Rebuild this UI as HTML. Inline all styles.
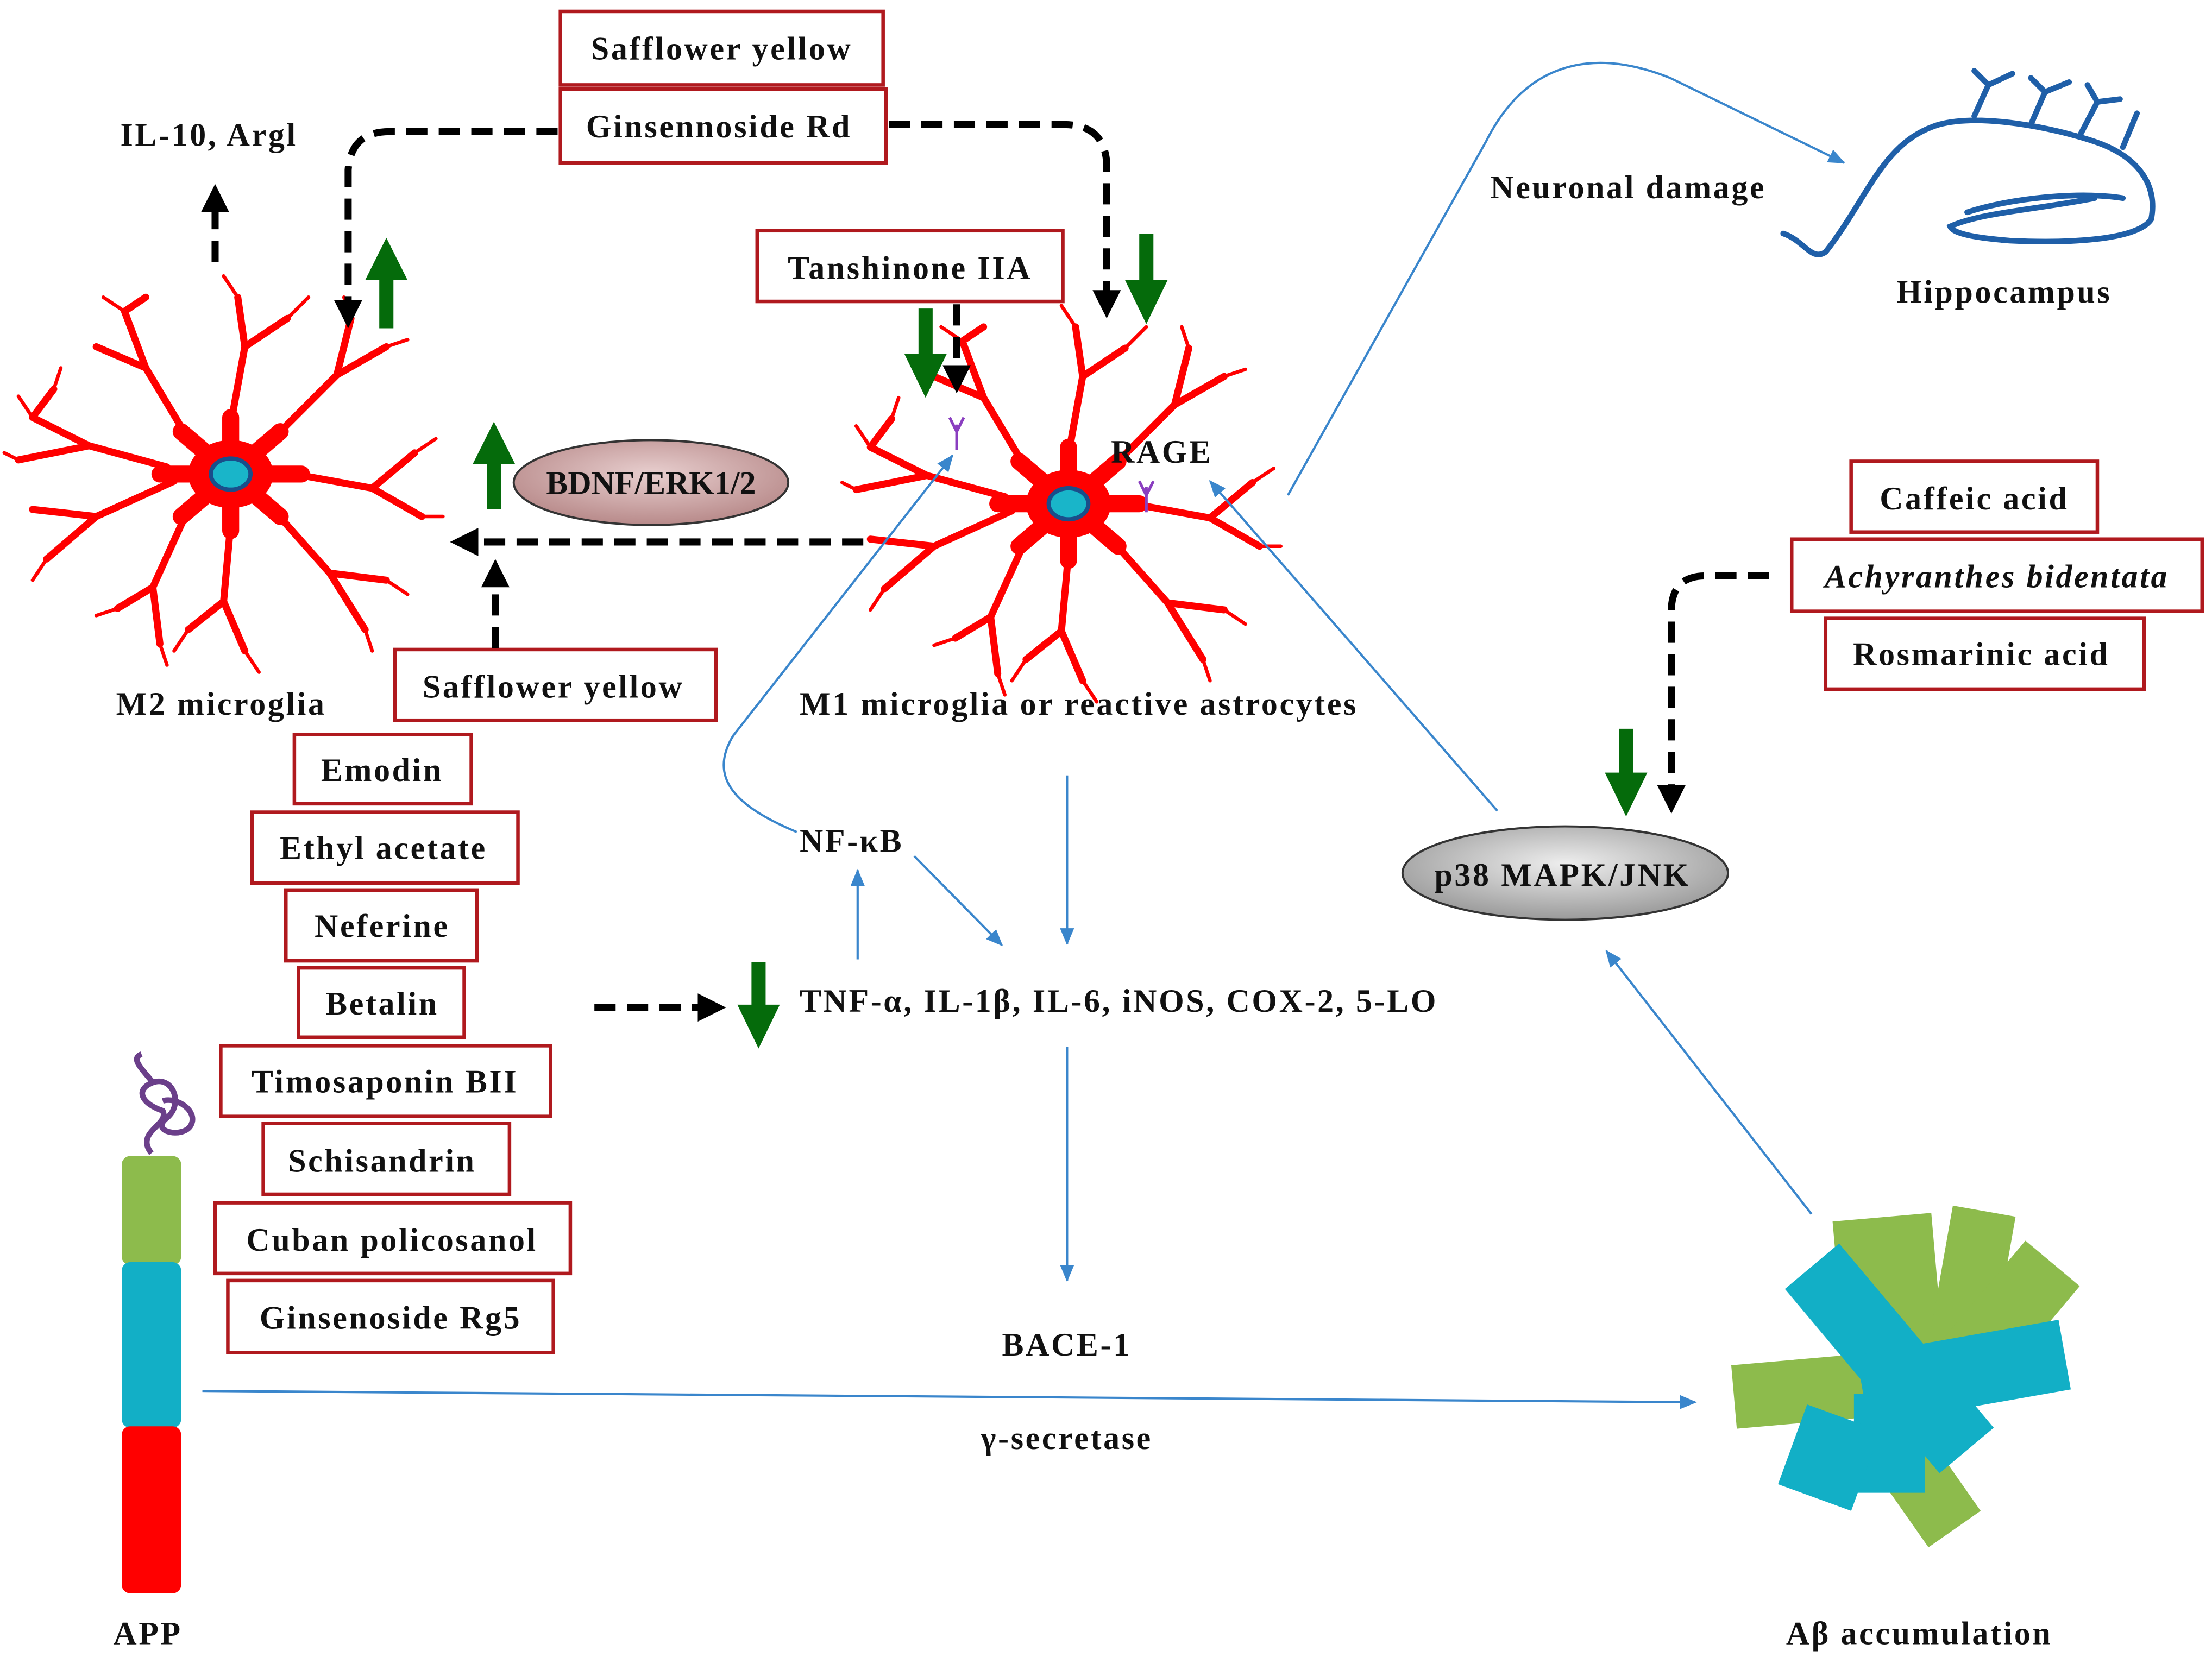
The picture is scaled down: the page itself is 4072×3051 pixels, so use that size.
<!DOCTYPE html>
<html><head><meta charset="utf-8"><style>
html,body{margin:0;padding:0;background:#fff;}
svg{display:block;}
text{font-family:"Liberation Serif",serif;font-weight:bold;font-size:23px;fill:#111;letter-spacing:1.4px;}
.box{fill:#fff;stroke:#b0191e;stroke-width:2.5;}
.dash{fill:none;stroke:#000;stroke-width:5;stroke-dasharray:15 8;}
.blue{fill:none;stroke:#3a86cc;stroke-width:1.6;}
.red{stroke:#f00;fill:none;stroke-linecap:round;}
</style></head><body>
<svg width="4072" height="3051" viewBox="0 0 1563 1171" xmlns="http://www.w3.org/2000/svg">
<defs>
<marker id="bk" markerWidth="4" markerHeight="4" refX="2" refY="2" orient="auto" markerUnits="strokeWidth"><path d="M0,0 L4,2 L0,4 z" fill="#000"/></marker>
<marker id="bl" markerWidth="12" markerHeight="10" refX="11" refY="5" orient="auto" markerUnits="userSpaceOnUse"><path d="M0,0 L12,5 L0,10 z" fill="#3a86cc"/></marker>
<radialGradient id="gp" cx="50%" cy="40%" r="60%"><stop offset="0" stop-color="#e8cfcf"/><stop offset="1" stop-color="#b88a8a"/></radialGradient>
<radialGradient id="gg" cx="50%" cy="40%" r="60%"><stop offset="0" stop-color="#eee"/><stop offset="1" stop-color="#9a9a9a"/></radialGradient>
<g id="cell">
<ellipse rx="30" ry="24" fill="#f00"/>
<path class="red" stroke-width="12" d="M-50,0 L50,0 M0,-40 L0,40 M-35,-30 L35,30 M-35,30 L35,-30"/>
<path class="red" stroke-width="5" d="M-45,-5 L-100,-20 L-140,-40 M-100,-20 L-150,-10 M-140,-40 L-125,-60 M-40,5 L-95,30 L-130,60 M-95,30 L-140,25 M-30,-25 L-60,-75 L-75,-115 M-60,-75 L-95,-90 M-75,-115 L-60,-125 M0,-35 L10,-90 L5,-125 M10,-90 L40,-110 M30,-25 L75,-70 L110,-90 M75,-70 L85,-110 M45,0 L100,10 L135,30 M100,10 L130,-15 M30,25 L70,70 L95,110 M70,70 L110,75 M0,35 L-5,90 L10,125 M-5,90 L-30,110 M-30,25 L-55,80 L-80,95 M-55,80 L-50,120"/>
<path class="red" stroke-width="2.5" d="M-140,-40 L-150,-55 M-150,-10 L-160,-15 M-130,60 L-140,75 M-75,-115 L-90,-125 M5,-125 L-5,-140 M40,-110 L55,-125 M110,-90 L125,-95 M135,30 L150,30 M130,-15 L145,-25 M95,110 L100,125 M110,75 L125,85 M10,125 L20,140 M-30,110 L-40,125 M-80,95 L-95,100 M-50,120 L-45,135 M-125,-60 L-120,-75 M85,-110 L80,-125"/>
<ellipse rx="14" ry="11" fill="#19b5c9" stroke="#1a4e8a" stroke-width="3"/>
</g>
</defs>

<use href="#cell" x="163" y="335"/>
<use href="#cell" x="755" y="356"/>
<path d="M676,318 L676,300 M676,305 L671,295 M676,305 L681,295 M810,362 L810,344 M810,350 L805,340 M810,350 L815,340" stroke="#8a3ec0" stroke-width="2" fill="none"/>

<rect class="box" x="396" y="8" width="228" height="52"/><text x="510" y="42" text-anchor="middle">Safflower  yellow</text>
<rect class="box" x="396" y="63" width="230" height="52"/><text x="508" y="97" text-anchor="middle">Ginsennoside Rd</text>
<rect class="box" x="535" y="163" width="216" height="50"/><text x="643" y="197" text-anchor="middle">Tanshinone  IIA</text>
<rect class="box" x="279" y="459" width="227" height="50"/><text x="391" y="493" text-anchor="middle">Safflower  yellow</text>
<rect class="box" x="208" y="519" width="125" height="49"/><text x="270" y="552" text-anchor="middle">Emodin</text>
<rect class="box" x="178" y="574" width="188" height="50"/><text x="271" y="607" text-anchor="middle">Ethyl acetate</text>
<rect class="box" x="202" y="629" width="135" height="50"/><text x="270" y="662" text-anchor="middle">Neferine</text>
<rect class="box" x="211" y="684" width="117" height="49"/><text x="270" y="717" text-anchor="middle">Betalin</text>
<rect class="box" x="156" y="739" width="233" height="50"/><text x="272" y="772" text-anchor="middle">Timosaponin  BII</text>
<rect class="box" x="186" y="794" width="174" height="50"/><text x="270" y="828" text-anchor="middle">Schisandrin</text>
<rect class="box" x="152" y="850" width="251" height="50"/><text x="277" y="884" text-anchor="middle">Cuban  policosanol</text>
<rect class="box" x="161" y="905" width="230" height="51"/><text x="276" y="939" text-anchor="middle">Ginsenoside Rg5</text>
<rect class="box" x="1308" y="326" width="174" height="50"/><text x="1395" y="360" text-anchor="middle">Caffeic acid</text>
<rect class="box" x="1266" y="381" width="290" height="51"/><text x="1411" y="415" text-anchor="middle" font-style="italic">Achyranthes bidentata</text>
<rect class="box" x="1290" y="437" width="225" height="50"/><text x="1400" y="470" text-anchor="middle">Rosmarinic  acid</text>

<ellipse cx="460" cy="341" rx="97" ry="30" fill="url(#gp)" stroke="#333" stroke-width="1.5"/><text x="460" y="349" text-anchor="middle" style="letter-spacing:0">BDNF/ERK1/2</text>
<ellipse cx="1106" cy="617" rx="115" ry="33" fill="url(#gg)" stroke="#333" stroke-width="1.5"/><text x="1104" y="626" text-anchor="middle">p38 MAPK/JNK</text>

<path class="dash" marker-end="url(#bk)" d="M394,93 L275,93 Q248,93 246,120 L246,222"/>
<path class="dash" marker-end="url(#bk)" d="M628,88 L752,88 Q780,88 782,115 L782,215"/>
<path class="dash" marker-end="url(#bk)" d="M152,185 L152,140"/>
<path class="dash" marker-end="url(#bk)" d="M676,215 L676,268"/>
<path class="dash" marker-end="url(#bk)" d="M610,383 L328,383"/>
<path class="dash" marker-end="url(#bk)" d="M350,458 L350,405"/>
<path class="dash" marker-end="url(#bk)" d="M420,712 L503,712"/>
<path class="dash" marker-end="url(#bk)" d="M1250,407 L1205,407 Q1182,407 1181,430 L1181,565"/>

<g fill="#056b0b">
<path d="M268,232 L268,198 L258,198 L273,168 L288,198 L278,198 L278,232 z"/>
<path d="M805,165 L805,198 L795,198 L810,229 L825,198 L815,198 L815,165 z"/>
<path d="M649,218 L649,250 L639,250 L654,281 L669,250 L659,250 L659,218 z"/>
<path d="M344,360 L344,328 L334,328 L349,298 L364,328 L354,328 L354,360 z"/>
<path d="M531,680 L531,710 L521,710 L536,741 L551,710 L541,710 L541,680 z"/>
<path d="M1144,515 L1144,546 L1134,546 L1149,577 L1164,546 L1154,546 L1154,515 z"/>
</g>

<path class="blue" marker-end="url(#bl)" d="M754,548 L754,667"/>
<path class="blue" marker-end="url(#bl)" d="M754,740 L754,905"/>
<path class="blue" marker-end="url(#bl)" d="M606,678 L606,615"/>
<path class="blue" marker-end="url(#bl)" d="M646,605 L708,668"/>
<path class="blue" marker-end="url(#bl)" d="M563,588 C520,570 500,550 518,520 L673,322"/>
<path class="blue" marker-end="url(#bl)" d="M143,983 L1198,991"/>
<path class="blue" marker-end="url(#bl)" d="M1058,573 L855,340"/>
<path class="blue" marker-end="url(#bl)" d="M1280,858 L1135,672"/>
<path class="blue" marker-end="url(#bl)" d="M910,350 L1050,100 C1080,40 1130,35 1180,55 L1303,115"/>

<path d="M1260,165 C1275,170 1280,185 1290,178 C1320,140 1330,100 1370,88 C1400,80 1450,90 1480,100 C1510,110 1525,130 1520,155 C1510,170 1460,172 1420,170 C1395,168 1380,165 1378,160 C1400,150 1440,148 1480,140 M1390,150 C1420,140 1470,135 1500,140 M1395,82 L1405,60 L1395,50 M1405,60 L1422,52 M1435,88 L1445,65 L1435,55 M1445,65 L1462,58 M1470,95 L1482,72 L1475,60 M1482,72 L1498,70 M1500,104 L1510,80" fill="none" stroke="#1f5fa8" stroke-width="4" stroke-linecap="round"/>

<path d="M107,815 C95,800 120,795 115,785 C100,780 95,770 108,765 C122,760 130,780 118,790 C105,800 130,805 135,795 C140,785 125,775 115,778 M108,765 C100,755 92,748 100,745" fill="none" stroke="#6b3f8a" stroke-width="4"/>
<rect x="86" y="817" width="42" height="77" rx="6" fill="#8dbb4c"/>
<rect x="86" y="892" width="42" height="117" rx="6" fill="#12afc6"/>
<rect x="86" y="1008" width="42" height="118" rx="6" fill="#f00"/>

<g>
<rect x="1300" y="860" width="70" height="120" fill="#8dbb4c" transform="rotate(-5 1335 920)"/>
<rect x="1370" y="855" width="45" height="110" fill="#8dbb4c" transform="rotate(10 1392 910)"/>
<rect x="1390" y="880" width="50" height="110" fill="#8dbb4c" transform="rotate(40 1415 935)"/>
<rect x="1225" y="960" width="110" height="45" fill="#8dbb4c" transform="rotate(-5 1280 982)"/>
<rect x="1330" y="990" width="45" height="100" fill="#8dbb4c" transform="rotate(-35 1352 1040)"/>
<rect x="1250" y="935" width="170" height="50" fill="#12afc6" transform="rotate(50 1335 960)"/>
<rect x="1315" y="945" width="145" height="50" fill="#12afc6" transform="rotate(-10 1387 970)"/>
<rect x="1310" y="985" width="50" height="70" fill="#12afc6"/>
<rect x="1265" y="1000" width="55" height="60" fill="#12afc6" transform="rotate(20 1292 1030)"/>
</g>

<text x="85" y="103">IL-10, Argl</text>
<text x="82" y="505">M2 microglia</text>
<text x="565" y="505">M1 microglia  or reactive astrocytes</text>
<text x="785" y="327">RAGE</text>
<text x="565" y="602">NF-κB</text>
<text x="565" y="715">TNF-α, IL-1β, IL-6, iNOS, COX-2, 5-LO</text>
<text x="708" y="958">BACE-1</text>
<text x="693" y="1024">γ-secretase</text>
<text x="80" y="1162">APP</text>
<text x="1262" y="1162">Aβ accumulation</text>
<text x="1053" y="140">Neuronal damage</text>
<text x="1340" y="214">Hippocampus</text>
</svg>
</body></html>
